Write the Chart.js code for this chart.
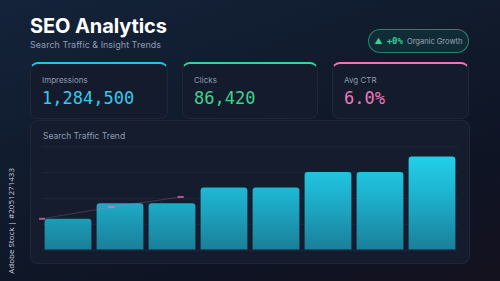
<!DOCTYPE html>
<html>
<head>
<meta charset="utf-8">
<script src="https://cdn.jsdelivr.net/npm/chart.js@4.4.1/dist/chart.umd.min.js"></script>
<style>
    html, body {
        margin: 0;
        padding: 0;
        width: 500px;
        height: 281px;
        overflow: hidden;
    }
    body {
        position: relative;
        font-family: Inter, "Noto Sans", sans-serif;
        background: linear-gradient(160deg, #14233a 0%, #101a2b 45%, #0f1424 75%, #15121f 100%);
        color: #fff;
    }
    .title {
        position: absolute;
        left: 30px;
        top: 16px;
        font-size: 20px;
        line-height: 20px;
        font-weight: 700;
        letter-spacing: -0.1px;
    }
    .subtitle {
        position: absolute;
        left: 30px;
        top: 39px;
        font-size: 9px;
        line-height: 12px;
        color: #8e9bb0;
    }
    .badge {
        position: absolute;
        left: 368px;
        top: 29px;
        width: 99px;
        height: 22px;
        border: 1px solid rgba(52, 211, 153, 0.55);
        border-radius: 12px;
        background: rgba(16, 120, 100, 0.18);
        display: flex;
        align-items: center;
        justify-content: center;
        gap: 4px;
        font-size: 7.5px;
        color: #9aa6b6;
    }
    .badge .up { color: #34d399; font-size: 8px; }
    .badge .pct { color: #34d399; font-weight: 700; font-family: "DejaVu Sans Mono", monospace; font-size: 9px; }
    .card {
        position: absolute;
        top: 62px;
        height: 54px;
        background: #131b2c;
        border: 1px solid rgba(255, 255, 255, 0.05);
        border-top: 2px solid;
        border-radius: 8px;
        box-sizing: content-box;
    }
    .card .label {
        position: absolute;
        left: 11px;
        top: 11px;
        font-size: 8px;
        color: #8e9bb0;
    }
    .card .value {
        position: absolute;
        left: 11px;
        top: 24px;
        font-family: "DejaVu Sans Mono", monospace;
        font-size: 17px;
        line-height: 20px;
    }
    .panel {
        position: absolute;
        left: 30px;
        top: 120px;
        width: 438px;
        height: 142px;
        background: #141c2e;
        border: 1px solid rgba(255, 255, 255, 0.05);
        border-radius: 8px;
    }
    .panel .label {
        position: absolute;
        left: 12px;
        top: 10px;
        font-size: 8.5px;
        color: #8e9bb0;
    }
    .chart-box {
        position: absolute;
        left: 36px;
        top: 140px;
        width: 428px;
        height: 116px;
    }
    .stock {
        position: absolute;
        left: 5px;
        bottom: 7px;
        writing-mode: vertical-rl;
        transform: rotate(180deg);
        font-size: 8px;
        color: #c9ced8;
        font-family: "Open Sans", sans-serif;
    }
</style>
</head>
<body>
    <div class="title">SEO Analytics</div>
    <div class="subtitle">Search Traffic &amp; Insight Trends</div>
    <div class="badge"><span class="up">▲</span><span class="pct">+0%</span><span>Organic Growth</span></div>

    <div class="card" style="left:30px; width:136px; border-top-color:#22c5e8;">
        <div class="label">Impressions</div>
        <div class="value" style="color:#38c8ea;">1,284,500</div>
    </div>
    <div class="card" style="left:182px; width:134px; border-top-color:#34d399;">
        <div class="label">Clicks</div>
        <div class="value" style="color:#43d08e;">86,420</div>
    </div>
    <div class="card" style="left:332px; width:135px; border-top-color:#f472b6;">
        <div class="label">Avg CTR</div>
        <div class="value" style="color:#ee78b8;">6.0%</div>
    </div>

    <div class="panel"><div class="label">Search Traffic Trend</div></div>
    <div class="chart-box"><canvas id="trafficChart"></canvas></div>

    <div class="stock">Adobe Stock | #2051271433</div>

<script>
// Données du graphique
const weeks = ['W1', 'W2', 'W3', 'W4', 'W5', 'W6', 'W7', 'W8'];
const traffic = [12000, 18000, 18000, 24000, 24000, 30000, 30000, 36000];
const trendLabels = ['P1', 'P2', 'P3', 'P4', 'P5', 'P6', 'P7'];
const trend = [12000, 16500, 20400, null, null, null, null];
const yTicks = [0, 10000, 20000, 30000, 40000];

document.addEventListener('DOMContentLoaded', function () {
    const ctx = document.getElementById('trafficChart').getContext('2d');

    // Dégradé des barres
    function barGradient(context) {
        const area = context.chart.chartArea;
        if (!area) return '#22d3ee';
        const g = context.chart.ctx.createLinearGradient(0, area.top, 0, area.bottom);
        g.addColorStop(0, '#24d6f0');
        g.addColorStop(0.45, '#1eb4d0');
        g.addColorStop(1, '#1a7f99');
        return g;
    }

    new Chart(ctx, {
        type: 'bar',
        data: {
            labels: weeks,
            datasets: [{
                type: 'line',
                label: 'Trend',
                data: trend,
                xAxisID: 'x2',
                borderColor: 'rgba(244, 114, 182, 0.25)',
                borderWidth: 1,
                pointStyle: 'line',
                pointRadius: 3,
                pointBorderWidth: 2,
                pointBorderColor: 'rgba(244, 114, 182, 0.7)',
                spanGaps: false,
                order: 0
            }, {
                type: 'bar',
                label: 'Traffic',
                data: traffic,
                xAxisID: 'x',
                grouped: false,
                backgroundColor: barGradient,
                borderRadius: { topLeft: 3, topRight: 3 },
                borderSkipped: 'bottom',
                categoryPercentage: 1,
                barPercentage: 0.9,
                order: 1
            }]
        },
        options: {
            responsive: true,
            maintainAspectRatio: false,
            animation: false,
            layout: { padding: { left: 4, right: 4, top: 6, bottom: 6 } },
            plugins: {
                legend: { display: false },
                tooltip: { enabled: false }
            },
            scales: {
                x: {
                    display: false
                },
                x2: {
                    type: 'category',
                    labels: trendLabels,
                    offset: false,
                    display: false
                },
                y: {
                    min: 0,
                    max: 40000,
                    z: 1,
                    afterBuildTicks: function (axis) {
                        axis.ticks = yTicks.map(v => ({ value: v }));
                    },
                    ticks: { display: false },
                    border: { display: false },
                    grid: {
                        color: 'rgba(34, 46, 66, 0.55)',
                        lineWidth: 1,
                        drawTicks: false
                    }
                }
            }
        }
    });
});
</script>
</body>
</html>
